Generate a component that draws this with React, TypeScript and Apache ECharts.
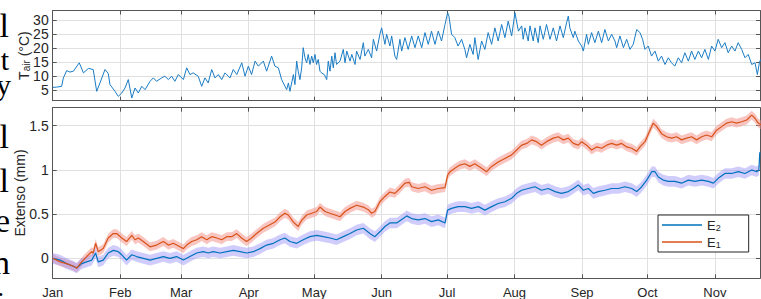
import React, { useEffect, useRef } from "react";
import * as echarts from "echarts";

// ---------- data ----------
const MONTHS = ["Jan", "Feb", "Mar", "Apr", "May", "Jun", "Jul", "Aug", "Sep", "Oct", "Nov"];
const MONTH_START_DAYS = [0, 31, 59, 90, 120, 151, 181, 212, 243, 273, 304];
const X_MAX_DAY = 324.7;

const TAIR_TICKS = [5, 10, 15, 20, 25, 30];
const EXT_TICKS = [0, 0.5, 1, 1.5];

// air temperature (day of year, °C)
const tairDays = [
  0, 1.8, 4.1, 4.9, 6.4, 7.9, 9.5, 12.2, 14.1, 16.4, 18.6, 20.2, 21.7, 24, 25.5, 26.3, 28.6, 30.1, 31.7, 33.2,
  34.7, 36.3, 37.8, 39.3, 40.9, 42.4, 44.7, 46.2, 47.7, 50, 51.5, 53.1, 54.6, 56.1, 57.7, 60, 61.5, 63, 64.5, 66.8,
  68.4, 69.9, 71.4, 73, 74.5, 76, 77.6, 79.1, 81.4, 82.9, 84.5, 86.8, 88.3, 89.8, 91.3, 92.9, 94.4, 96.7, 98.2, 100.5,
  102, 103.6, 105.1,
  107.4, 108.2, 108.9, 110.5, 111.2, 112.0, 112.7, 113.5, 114.3, 115.0, 115.8, 116.6, 117.3, 118.1, 118.9, 119.6,
  120.4, 121.1, 121.9, 122.7, 123.4, 124.7, 125.8, 126.5, 127.3, 128.1, 128.8, 129.6, 130.3, 131.9, 133.4, 134.2,
  135.0, 136.5, 137.3, 138.8, 139.5, 141.1, 142.6, 143.3, 144.9, 146.4, 147.2, 148.7, 150.2, 151.0, 152.5, 153.3,
  154.8, 155.6, 157.1, 157.9, 159.4, 160.2, 161.7, 163.2, 164.8, 166.3, 167.8, 169.4, 170.9, 172.4, 173.9, 175.5,
  177.0, 178.5, 180.1, 181.3, 181.9, 183.1, 184.6, 186.1, 187.7, 189.2, 190.0, 191.5, 193.0, 193.8, 195.3, 196.9,
  198.4, 199.9, 201.5, 203.0, 204.5, 206.1, 207.6, 209.1, 210.7, 212.2, 213.8,
  215.3, 216.0, 216.8, 218.3, 219.1, 220.6, 221.4, 222.9, 223.7, 225.2, 226.7, 228.3, 229.8, 231.3, 232.9, 234.4,
  235.9, 236.7, 237.4, 239.0, 239.7, 241.3, 242.8, 243.6, 245.1, 245.9, 247.4, 248.9, 250.5, 252.0, 253.5, 255.1,
  256.6, 258.1, 258.9, 260.4, 262.0, 263.5, 265.0, 266.5, 268.1, 269.6, 270.8, 271.9, 273.4, 274.9, 276.5, 278.0,
  279.5, 281.1, 282.6, 284.1, 285.6, 287.2, 288.7, 290.2, 291.8, 293.3, 294.8, 296.4, 297.9, 299.4, 301.0, 302.5,
  304.0, 305.5, 307.1, 308.6, 310.1, 311.7, 313.2, 314.7, 316.3, 317.8, 319.3, 320.9, 322.4, 323.5, 324.4, 325.0,
];
const tairValues = [
  6.0, 6.1, 6.4, 9.4, 12, 11.5, 11.8, 14.8, 11.2, 12.8, 12.4, 4.6, 7.6, 12.4, 11, 7, 4.6, 2.8, 4, 5.8,
  8.8, 2.2, 5.8, 4, 6.4, 5.2, 8.2, 9.4, 8.2, 9.4, 10, 8.8, 10, 8.2, 10.6, 8.8, 13, 10.6, 11.2, 10,
  6.4, 9.4, 7.6, 12.4, 9.4, 10.6, 8.8, 11.2, 9.4, 12.4, 10.6, 14.8, 10, 13.6, 10.6, 15.4, 13.6, 15.4, 11.8, 17.2,
  13.6, 13, 8.8,
  5.2, 7.6, 4.6, 10.6, 7, 15.4, 11.8, 8.8, 13, 20.2, 16.6, 14.8, 17.8, 14.2, 17.2, 14.8,
  17.8, 14.2, 16, 11.8, 11.2, 10.6, 8.8, 15.4, 11.8, 17.2, 13, 18.4, 14.2, 15.4, 19.6, 14.8,
  19, 15.4, 17.8, 14.2, 19, 16, 22, 17.2, 19.6, 16.6, 23.2, 19, 25, 27.3, 21.4, 25,
  20.8, 24.4, 17.2, 16, 23.2, 19, 23.8, 19.6, 24.4, 20.2, 24.4, 20.2, 25.6, 21.4, 26.1, 21.4,
  26.1, 22.6, 28.5, 32.7, 31.5, 25, 23.8, 20.8, 23.2, 19.6, 16.6, 21.4, 17.8, 23.8, 16, 22.6,
  19.6, 25.6, 21.4, 27.3, 22.6, 28.5, 23.8, 29.7, 24.4, 32.7, 26.1,
  28, 23.2, 27.3, 22.6, 28, 22.6, 27.3, 22, 28, 23.2, 28.5, 23.2, 27.3, 22.6, 28, 23.8,
  29.1, 31.5, 27.3, 23.8, 26.1, 22.6, 20.8, 19, 25, 21.4, 25.6, 22, 26.1, 22, 26.7, 22.6,
  25, 22.6, 20.2, 24.4, 20.2, 23.2, 19.6, 21.4, 26.7, 25.6, 23.2, 19.6, 20.8, 17.2, 19, 15.4,
  17.2, 14.2, 16.6, 14.8, 13.6, 16.6, 14.8, 18.4, 15.4, 19, 16, 19, 16.6, 19.6, 16, 20.8,
  19, 23.2, 20.2, 22, 18.4, 20.8, 19, 22, 19.6, 16.6, 17.8, 14.2, 14.8, 10.6, 14.8, 16,
];

// extensometer E1 (mm)
const e1Days = [
  0, 3.4, 6.4, 9.5, 11.0, 13.3, 15.6, 17.9, 18.6, 19.7, 20.9, 23.2, 25.5, 27.8, 29.4, 31.7, 33.9, 36.3, 37.8, 39.3,
  41.6, 44.7, 47.7, 50.8, 53.1, 55.4, 58.4, 60.0, 61.5, 63.8, 66.1, 68.4, 70.7, 73.0, 75.3, 77.6, 79.9, 82.2, 84.5, 86.7,
  89.0, 91.3, 93.6, 96.7, 99.7, 102.0, 104.4, 106.6, 108.1, 110.5, 112.7, 114.3, 116.6, 118.9, 121.2, 122.7, 125.0, 127.3,
  129.6, 131.9, 134.2, 136.5, 139.5, 142.6, 144.9, 146.4, 147.9, 150.2, 152.5, 154.8, 157.1, 159.4, 161.7, 163.7, 164.8,
  167.8, 170.9, 173.9, 177.0, 180.1, 181.3, 182.4, 184.6, 186.9, 189.2, 191.5, 193.8, 196.9, 199.2, 201.5, 204.5, 207.6,
  210.7, 213.0, 215.3, 217.6, 219.9, 222.1, 224.4, 226.7, 229.8, 232.1, 234.4, 236.7, 239.0, 241.3, 242.8, 245.1, 247.4,
  249.7, 252.0, 254.3, 256.6, 258.9, 261.2, 263.5, 265.8, 268.1, 269.6, 271.9, 274.2, 275.7, 277.3, 279.5, 281.8, 284.1,
  286.4, 288.7, 291.0, 293.3, 295.6, 297.9, 300.2, 302.5, 304.8, 307.1, 309.4, 311.7, 313.9, 316.3, 318.6, 320.9, 322.4,
  323.9, 325.1,
];
const e1Values = [
  0.0, -0.04, -0.06, -0.09, -0.11, -0.04, 0.02, 0.075, 0.06, 0.17, 0.075, 0.11, 0.23, 0.28, 0.28, 0.23, 0.19, 0.26, 0.21, 0.23,
  0.19, 0.13, 0.15, 0.19, 0.15, 0.17, 0.13, 0.11, 0.15, 0.19, 0.21, 0.245, 0.21, 0.245, 0.23, 0.21, 0.245, 0.245, 0.28, 0.23,
  0.19, 0.23, 0.28, 0.34, 0.38, 0.41, 0.47, 0.51, 0.49, 0.41, 0.36, 0.43, 0.49, 0.51, 0.53, 0.58, 0.53, 0.51,
  0.49, 0.47, 0.53, 0.565, 0.6, 0.58, 0.55, 0.51, 0.53, 0.64, 0.7, 0.75, 0.735, 0.79, 0.85, 0.86, 0.81,
  0.79, 0.81, 0.77, 0.79, 0.8, 0.94, 0.98, 1.02, 1.055, 1.07, 1.04, 1.07, 1.02, 0.98, 1.04, 1.09, 1.13,
  1.17, 1.225, 1.28, 1.3, 1.34, 1.32, 1.28, 1.32, 1.36, 1.375, 1.34, 1.36, 1.3, 1.28, 1.32, 1.28, 1.225,
  1.26, 1.245, 1.28, 1.3, 1.28, 1.3, 1.26, 1.245, 1.21, 1.26, 1.32, 1.45, 1.53, 1.49, 1.41, 1.375, 1.36,
  1.375, 1.34, 1.36, 1.375, 1.34, 1.375, 1.395, 1.375, 1.45, 1.49, 1.53, 1.545, 1.53, 1.545, 1.565, 1.62, 1.585,
  1.53, 1.51,
];

// extensometer E2 (mm)
const e2Days = [
  0, 3.4, 6.4, 9.5, 11.0, 13.3, 15.6, 17.9, 19.7, 20.9, 23.2, 25.5, 27.8, 30.1, 31.7, 33.9, 36.3, 38.5, 41.6, 44.7,
  47.7, 50.8, 53.8, 56.9, 60.0, 63.0, 66.1, 69.1, 71.4, 73.7, 76.8, 79.9, 82.9, 86.0, 89.0, 92.1, 95.2, 98.2, 101.3, 104.4,
  106.6, 108.9, 112.0, 115.0, 118.1, 121.2, 124.2, 127.3, 130.3, 133.4, 136.5, 139.5, 142.6, 145.6, 147.9, 150.2, 152.5,
  154.8, 157.9, 160.9, 162.5, 164.8, 167.8, 170.9, 173.9, 177.0, 180.1, 181.3, 183.1, 186.1, 189.2, 192.3, 195.4, 198.4,
  201.5, 204.5, 207.6, 210.7, 213.0, 215.3, 218.3, 221.4, 224.4, 227.5, 230.6, 233.6, 236.7, 239.0, 241.3, 243.6, 245.9,
  248.2, 250.5, 253.5, 256.6, 259.7, 262.7, 265.8, 268.1, 270.4, 272.7, 275.0, 276.5, 278.0, 280.3, 282.6, 285.6, 288.7,
  291.8, 294.8, 297.9, 301.0, 303.3, 305.5, 308.6, 311.7, 314.7, 317.8, 320.9, 323.2, 324.2, 324.6,
];
const e2Values = [
  0, -0.02, -0.06, -0.09, -0.11, -0.06, -0.04, -0.02, 0.06, -0.04, -0.02, 0.06, 0.09, 0.075, 0.04, -0.02, 0.04, 0.02, 0, -0.02,
  0, 0.02, 0, 0.02, -0.02, 0.02, 0.06, 0.075, 0.06, 0.075, 0.06, 0.075, 0.09, 0.075, 0.06, 0.075, 0.11, 0.15, 0.17, 0.21,
  0.23, 0.19, 0.17, 0.21, 0.245, 0.26, 0.245, 0.23, 0.21, 0.245, 0.28, 0.32, 0.34, 0.28, 0.245, 0.3, 0.36,
  0.4, 0.4, 0.45, 0.48, 0.45, 0.435, 0.45, 0.415, 0.435, 0.4, 0.545, 0.565, 0.585, 0.585, 0.565, 0.585, 0.545,
  0.585, 0.62, 0.64, 0.68, 0.735, 0.77, 0.79, 0.81, 0.77, 0.79, 0.755, 0.735, 0.755, 0.79, 0.83, 0.77, 0.79,
  0.735, 0.755, 0.77, 0.79, 0.79, 0.81, 0.79, 0.755, 0.81, 0.885, 0.98, 0.98, 0.92, 0.885, 0.87, 0.87, 0.85,
  0.885, 0.87, 0.885, 0.87, 0.85, 0.905, 0.96, 0.96, 0.98, 0.96, 1.0, 0.98, 1.0, 1.2,
];

// half-width of the shaded uncertainty bands (mm)
const E1_HALF_BAND = 0.05;
const E2_HALF_BAND = 0.06;

// ---------- styles ----------
const FONT = '"Liberation Sans", Arial, Helvetica, sans-serif';
const SERIF = '"Liberation Serif", "Times New Roman", serif';
const AXIS_COLOR = "#555555";
const TEXT_COLOR = "#262626";
const GRID_COLOR = "#e0e0e0";
const BLUE = "#0072BD";
const ORANGE = "#D95319";

function pairs(days: number[], vals: number[]) {
  return days.map((d, i) => [d, vals[i]]);
}

function xAxisDef(gridIndex: number, position: "top" | "bottom", labels: boolean, split: boolean) {
  return {
    type: "value",
    gridIndex,
    position,
    min: 0,
    max: X_MAX_DAY,
    axisLine: { show: true, onZero: false, lineStyle: { color: AXIS_COLOR, width: 1 } },
    axisTick: { show: true, inside: true, length: 4, customValues: MONTH_START_DAYS, lineStyle: { color: AXIS_COLOR } },
    axisLabel: {
      show: labels,
      customValues: MONTH_START_DAYS,
      margin: 8,
      fontSize: 13,
      fontFamily: FONT,
      color: TEXT_COLOR,
      formatter: (v: number) => {
        const i = MONTH_START_DAYS.indexOf(Math.round(v));
        return i >= 0 ? MONTHS[i] : "";
      },
    },
    splitLine: { show: split, lineStyle: { color: GRID_COLOR, width: 1 } },
  };
}

function yAxisDef(
  gridIndex: number,
  position: "left" | "right",
  min: number,
  max: number,
  ticks: number[],
  labels: boolean,
  name?: string,
  nameGap?: number
) {
  return {
    type: "value",
    gridIndex,
    position,
    min,
    max,
    name: name ?? "",
    nameLocation: "middle",
    nameGap: nameGap ?? 0,
    nameRotate: 90,
    nameMoveOverlap: false,
    nameTextStyle: {
      fontSize: 14,
      fontFamily: FONT,
      color: TEXT_COLOR,
      rich: {
        s: { fontSize: 10, fontFamily: FONT, color: TEXT_COLOR, padding: [5, 0, 0, 0] },
      },
    },
    axisLine: { show: true, onZero: false, lineStyle: { color: AXIS_COLOR, width: 1 } },
    axisTick: { show: true, inside: true, length: 4, customValues: ticks, lineStyle: { color: AXIS_COLOR } },
    axisLabel: {
      show: labels,
      customValues: ticks,
      margin: 4,
      fontSize: 14,
      fontFamily: FONT,
      color: TEXT_COLOR,
      formatter: (v: number) => String(v),
    },
    splitLine: { show: labels, lineStyle: { color: GRID_COLOR, width: 1 } },
  };
}

// fragments of the neighbouring page text, cut by the left edge
const SIDE_GLYPHS = ["l", "t", "y", "l", "l", "e", "n", "."];

export default function App() {
  const ref = useRef<HTMLDivElement>(null);

  useEffect(() => {
    if (!ref.current) return;
    const chart = echarts.init(ref.current, undefined, { renderer: "svg" });

    const sideY = [25, 59, 84, 136, 180, 220, 262, 287];
    const sideX = [9, 9, 11, 9, 9, 10, 10, 4];
    const sideSize = [34, 30, 30, 34, 34, 34, 34, 26];

    const bandSeries = (days: number[], vals: number[], half: number, color: string) => ({
      type: "custom",
      xAxisIndex: 2,
      yAxisIndex: 2,
      data: [[days[0], vals[0]]],
      clip: true,
      silent: true,
      renderItem: (_params: any, api: any) => {
        const upper = days.map((d, i) => api.coord([d, vals[i] + half]));
        const lower = days.map((d, i) => api.coord([d, vals[i] - half])).reverse();
        return {
          type: "polygon",
          shape: { points: upper.concat(lower) },
          style: { fill: color, stroke: "none" },
        };
      },
    });

    chart.setOption({
      animation: false,
      backgroundColor: "#ffffff",
      textStyle: { fontFamily: FONT },
      grid: [
        { left: 52.7, right: 1, top: 10.5, height: 90.2, outerBoundsMode: "none", containLabel: false },
        { left: 52.7, right: 1, top: 107.7, height: 170.6, outerBoundsMode: "none", containLabel: false },
      ],
      xAxis: [
        xAxisDef(0, "bottom", false, true),
        xAxisDef(0, "top", false, false),
        xAxisDef(1, "bottom", true, true),
        xAxisDef(1, "top", false, false),
      ],
      yAxis: [
        yAxisDef(0, "left", 1.25, 33.5, TAIR_TICKS, true, "T{s|air} (°C)", 21),
        yAxisDef(0, "right", 1.25, 33.5, TAIR_TICKS, false),
        yAxisDef(1, "left", -0.226, 1.704, EXT_TICKS, true, "Extenso (mm)", 26),
        yAxisDef(1, "right", -0.226, 1.704, EXT_TICKS, false),
      ],
      legend: {
        data: ["E2", "E1"],
        orient: "vertical",
        left: 658,
        top: 215,
        icon: "rect",
        itemWidth: 40,
        itemHeight: 1.5,
        itemGap: 1,
        padding: [2, 28, 2, 4],
        borderColor: "#262626",
        borderWidth: 1,
        borderRadius: 0,
        backgroundColor: "#ffffff",
        selectedMode: false,
        formatter: (n: string) => (n === "E2" ? "E{s|2}" : "E{s|1}"),
        textStyle: {
          fontSize: 13,
          fontFamily: FONT,
          color: TEXT_COLOR,
          lineHeight: 16,
          rich: { s: { fontSize: 9, fontFamily: FONT, color: TEXT_COLOR, padding: [6, 0, 0, 0] } },
        },
      },
      graphic: SIDE_GLYPHS.map((g, i) => ({
        type: "text",
        x: sideX[i],
        y: sideY[i],
        silent: true,
        style: {
          text: g,
          font: `${sideSize[i]}px ${SERIF}`,
          fill: "#000000",
          align: "right",
          verticalAlign: "middle",
        },
      })),
      series: [
        {
          type: "line",
          name: "Tair",
          xAxisIndex: 0,
          yAxisIndex: 0,
          data: pairs(tairDays, tairValues),
          symbol: "none",
          lineStyle: { color: "#1a7cc4", width: 1 },
        },
        bandSeries(e1Days, e1Values, E1_HALF_BAND, "rgba(244,150,140,0.55)"),
        bandSeries(e2Days, e2Values, E2_HALF_BAND, "rgba(150,145,250,0.45)"),
        {
          type: "line",
          name: "E2",
          xAxisIndex: 2,
          yAxisIndex: 2,
          data: pairs(e2Days, e2Values),
          symbol: "none",
          color: BLUE,
          lineStyle: { color: BLUE, width: 1.2 },
        },
        {
          type: "line",
          name: "E1",
          xAxisIndex: 2,
          yAxisIndex: 2,
          data: pairs(e1Days, e1Values),
          symbol: "none",
          color: ORANGE,
          lineStyle: { color: ORANGE, width: 1.2 },
        },
      ],
    });

    return () => chart.dispose();
  }, []);

  return (
    <div
      ref={ref}
      style={{ position: "fixed", left: 0, top: 0, width: 761, height: 299, background: "#fff" }}
    />
  );
}
